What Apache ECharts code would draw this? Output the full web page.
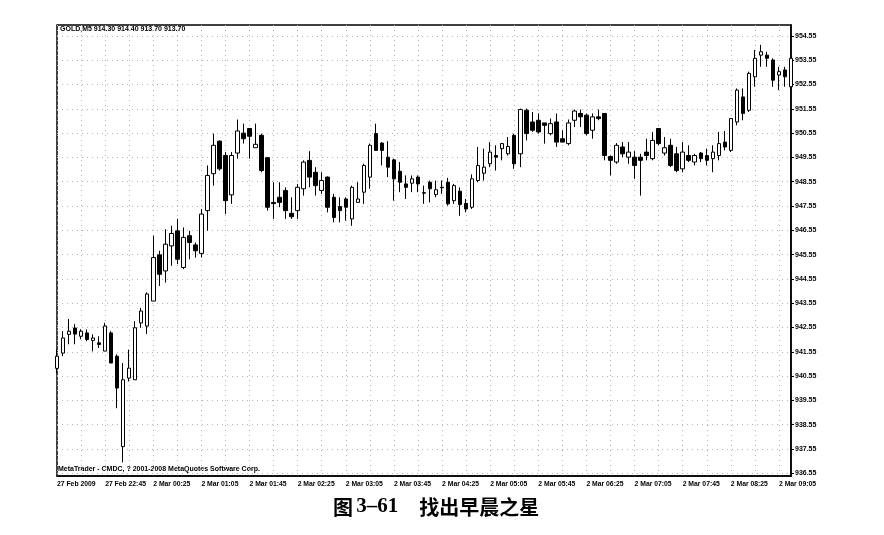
<!DOCTYPE html>
<html><head><meta charset="utf-8">
<script src="https://cdn.jsdelivr.net/npm/echarts@6/dist/echarts.min.js"></script>
<style>html,body{margin:0;padding:0;background:#fff}#c{width:884px;height:535px}</style>
</head><body><div id="c"></div>
<script>
const tickLabels = ['27 Feb 2009','27 Feb 22:45','2 Mar 00:25','2 Mar 01:05','2 Mar 01:45','2 Mar 02:25','2 Mar 03:05','2 Mar 03:45','2 Mar 04:25','2 Mar 05:05','2 Mar 05:45','2 Mar 06:25','2 Mar 07:05','2 Mar 07:45','2 Mar 08:25','2 Mar 09:05'];
const priceTicks = [936.55,937.55,938.55,939.55,940.55,941.55,942.55,943.55,944.55,945.55,946.55,947.55,948.55,949.55,950.55,951.55,952.55,953.55,954.55];

const opens = [940.87,941.50,942.27,942.53,942.19,942.33,942.02,941.92,941.58,942.33,
941.37,937.65,940.47,940.40,942.74,942.61,943.64,945.54,944.88,945.91,
946.53,945.02,946.33,945.95,945.60,947.36,948.88,950.22,949.63,948.01,
949.73,950.55,950.74,949.95,950.46,949.54,947.70,947.91,948.19,947.25,
947.36,948.26,949.43,948.94,948.19,948.74,947.91,947.53,947.84,947.02,
947.70,948.12,948.74,950.53,950.14,949.56,949.45,948.98,948.46,948.49,
948.74,948.10,948.53,948.02,948.32,948.53,947.77,948.16,947.66,947.50,
948.60,948.90,949.29,949.63,949.91,949.70,950.46,949.70,951.49,951.01,
951.08,950.97,950.53,951.01,950.32,950.12,951.08,951.36,951.29,950.67,
951.22,951.36,949.59,949.36,949.98,949.56,949.56,949.56,949.77,949.50,
950.74,949.73,950.05,949.70,949.08,949.63,949.36,949.73,949.63,949.50,
949.63,950.18,949.84,951.01,952.04,951.49,952.87,953.76,953.76,953.56,
952.94,953.15,952.46];
const closes = [941.37,942.12,942.40,942.28,942.40,942.06,942.12,941.85,942.61,941.09,
940.06,940.40,940.88,942.54,943.23,943.93,945.43,944.74,945.98,946.42,
945.36,946.26,946.05,945.71,947.22,948.81,950.05,949.08,947.77,949.63,
950.64,950.32,950.42,950.09,949.01,947.50,947.65,947.70,947.36,947.11,
948.32,949.36,948.74,948.39,948.60,947.50,947.08,947.36,947.50,948.32,
947.84,949.22,950.05,949.84,949.84,949.15,948.67,948.53,948.32,948.67,
948.46,948.08,948.26,948.22,948.30,947.64,948.39,947.61,947.43,948.67,
949.22,949.15,949.77,949.56,950.12,950.00,949.29,951.52,950.53,950.67,
950.60,950.87,950.94,950.18,950.18,950.97,951.46,951.22,950.53,951.22,
951.15,949.63,949.43,950.05,949.70,949.77,949.22,949.43,949.63,950.25,
950.12,949.95,949.22,949.01,949.77,949.43,949.63,949.50,949.43,949.77,
950.12,949.98,951.15,952.32,951.36,953.01,953.63,953.90,953.63,952.73,
953.08,952.87,953.63];
const lows = [940.67,941.37,941.86,941.86,942.07,941.99,941.57,941.71,941.58,941.09,
939.23,937.00,940.33,940.40,942.54,942.28,943.64,944.26,944.40,945.09,
945.16,944.95,945.36,945.43,945.43,946.53,948.39,949.01,947.22,947.64,
949.50,950.12,949.50,949.95,948.94,947.36,947.02,947.50,947.02,947.02,
947.02,947.98,948.32,947.98,948.05,947.29,946.88,946.88,946.95,946.74,
947.70,947.64,948.26,949.84,949.22,948.74,947.77,948.12,947.84,948.12,
948.12,947.64,947.70,947.91,948.05,947.57,947.64,947.15,947.29,947.43,
948.53,948.60,949.15,949.01,949.43,949.63,949.08,949.15,950.25,950.60,
950.53,950.12,950.46,949.98,950.18,950.05,950.80,950.80,950.46,950.32,
951.08,949.43,948.81,949.29,949.56,949.29,948.67,947.98,949.43,949.43,
950.05,949.63,949.15,948.94,948.94,949.36,949.22,949.36,949.22,948.94,
949.43,949.84,949.77,950.87,951.08,951.42,952.46,953.28,953.28,952.46,
952.32,952.46,952.46];
const highs = [941.66,942.40,942.90,942.69,942.48,942.47,942.27,942.19,942.74,942.40,
941.45,941.09,941.64,942.81,943.36,944.00,946.33,945.71,946.60,946.74,
947.02,946.67,946.53,946.05,947.43,949.22,950.53,950.25,949.77,949.77,
951.11,950.94,950.74,950.94,950.53,949.57,948.53,948.53,948.32,947.91,
948.46,949.43,949.81,949.15,948.94,948.77,948.05,947.91,947.91,948.39,
948.53,949.29,950.12,950.94,950.18,950.22,949.50,949.36,948.81,948.81,
948.81,948.39,948.60,948.60,948.60,948.71,948.46,948.32,947.84,948.85,
949.98,949.91,950.18,950.05,950.14,950.39,950.53,951.56,951.56,951.42,
951.36,950.97,951.15,951.36,950.67,951.11,951.52,951.52,951.36,951.36,
951.52,951.36,949.63,950.14,950.18,950.18,949.81,949.70,950.32,950.60,
950.74,950.39,950.32,949.98,950.18,950.05,949.70,949.77,949.91,950.05,
950.60,950.64,951.15,952.39,952.39,953.08,953.97,954.18,953.90,953.63,
953.28,953.28,953.63];

const categories = opens.map((_, i) => 'bar' + i);
const ohlc = opens.map((o, i) => [o, closes[i], lows[i], highs[i]]);

const chart = echarts.init(document.getElementById('c'), null, {renderer: 'canvas'});
const dotted = {color: '#b4b4b4', width: 1, type: [1, 4]};
chart.setOption({
  animation: false,
  backgroundColor: '#fff',
  grid: {left: 57, top: 25, width: 734, height: 451, show: true, borderColor: '#000', borderWidth: 1.5, backgroundColor: 'transparent'},
  xAxis: {
    type: 'category', data: categories, boundaryGap: false,
    axisLine: {show: true, lineStyle: {color: '#000', width: 1.5}},
    axisTick: {show: false},
    axisLabel: {
      interval: 7, align: 'left', margin: 5, color: '#000',
      fontSize: 6.8, fontWeight: 'bold', fontFamily: 'Liberation Sans',
      formatter: (v, i) => (i % 8 === 0 && tickLabels[i / 8]) ? tickLabels[i / 8] : ''
    },
    splitLine: {show: true, interval: 3, lineStyle: dotted}
  },
  yAxis: {
    type: 'value', position: 'right', min: 936.44, max: 955.0, scale: true,
    axisLine: {show: true, lineStyle: {color: '#000', width: 1.5}},
    axisTick: {show: true, length: 3, customValues: priceTicks, lineStyle: {color: '#000'}},
    axisLabel: {
      customValues: priceTicks, margin: 4, color: '#000',
      fontSize: 7, fontWeight: 'bold', fontFamily: 'Liberation Sans',
      formatter: v => Number(v).toFixed(2)
    },
    splitLine: {show: true, lineStyle: dotted}
  },
  series: [{
    type: 'candlestick', data: ohlc, barWidth: 4, clip: false,
    itemStyle: {color: '#fff', color0: '#000', borderColor: '#000', borderColor0: '#000', borderWidth: 1}
  }],
  graphic: [
    {type: 'text', x: 60, y: 29, style: {text: 'GOLD,M5 914.30 914.40 913.70 913.70', font: 'bold 7px "Liberation Sans"', fill: '#000', align: 'left', verticalAlign: 'middle'}},
    {type: 'text', x: 58, y: 469, style: {text: 'MetaTrader - CMDC, ? 2001-2008 MetaQuotes Software Corp.', font: 'bold 7px "Liberation Sans"', fill: '#000', align: 'left', verticalAlign: 'middle'}},
    {type: 'text', x: 333, y: 507, style: {
      text: '{a|图} {b|3–61    }{a|找出早晨之星}', align: 'left', verticalAlign: 'middle', fill: '#000',
      rich: {
        a: {font: 'bold 20px "Noto Sans CJK SC"', fill: '#000'},
        b: {font: 'bold 21px "Liberation Serif"', fill: '#000'}
      }
    }}
  ]
});
</script></body></html>
